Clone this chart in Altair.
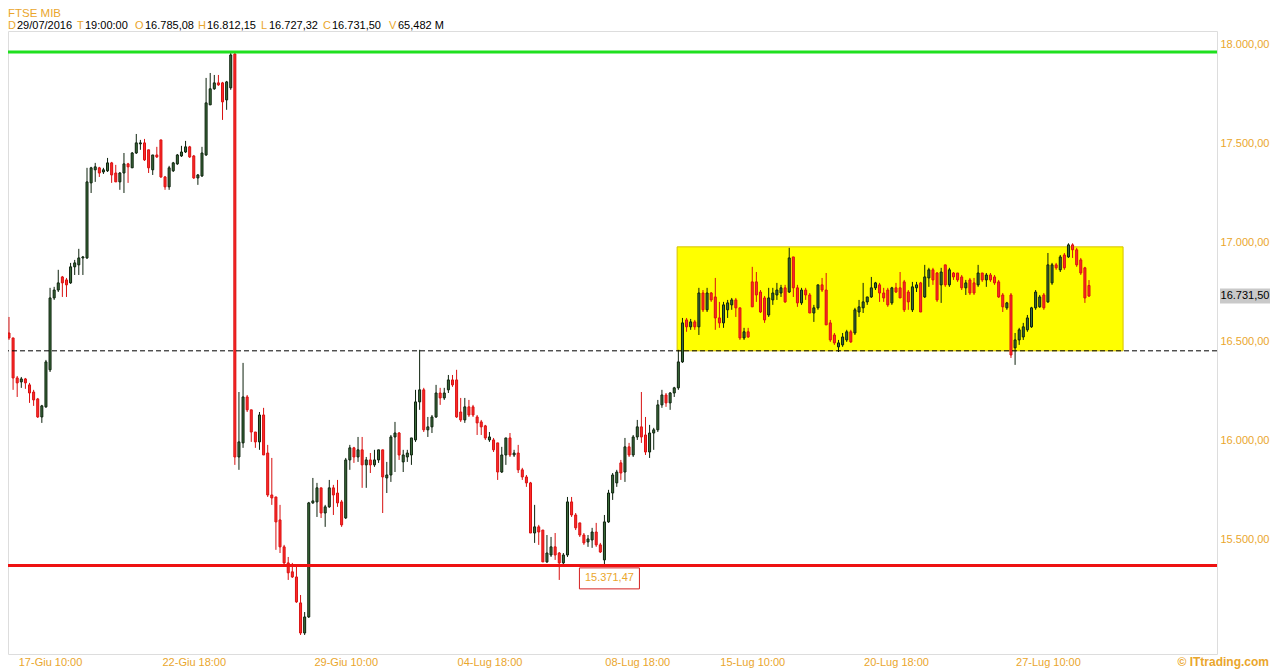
import json
import altair as alt
import pandas as pd

# ---------------- hourly candles ----------------
opens = [
    16545,16520,16318,16298,16313,16283,16247,16212,16121,16172,16359,16722,16762,16828,16813,16798,16879,16889,16924,16924,
    17303,17369,17379,17358,17364,17404,17353,17308,17353,17399,17379,17454,17500,17505,17470,17369,17444,17520,17333,17283,
    17364,17399,17439,17459,17485,17439,17328,17338,17444,17697,17778,17808,17808,17722,17783,17954,
    15919,15990,16222,16157,16045,15995,16131,15939,15727,15717,15601,15465,15384,15339,15313,15182,15030,15111,15687,15692,
    15763,15636,15667,15763,15737,15692,15611,15904,15965,15919,15955,15879,15904,15879,15904,15955,15813,15828,16020,16040,
    15894,15919,15929,16005,16197,16258,16056,
    16071,16121,16242,16217,16258,16308,16308,16146,16106,16172,16172,16121,16096,16076,16005,16005,15990,15843,15929,16015,
    15929,15939,15854,15818,15788,15535,15566,15550,15389,15424,15465,15434,15384,15424,15692,15626,15586,15525,15490,15500,
    15540,15475,15399,15591,15737,15788,15889,15843,15970,15929,16020,16071,16030,15944,16040,16056,16182,16232,16192,16242,
    16268,
    16399,16611,16576,16601,16576,16747,16662,16747,16727,16621,16596,16662,16687,16712,16672,16520,16551,16803,16803,16752,
    16722,16636,16712,16737,16747,16773,16752,16929,16773,16697,16762,16737,16646,16672,16788,16762,16596,16535,16475,16485,
    16510,16551,16545,16651,16672,16702,16727,16773,16788,16747,16762,16697,16773,16773,
    16803,16752,16662,16773,16798,16727,16823,16864,16848,16788,16889,16788,16848,16848,16828,16773,16813,16798,16788,16848,
    16813,16838,16828,16803,16737,16672,16737,16470,16510,16525,16561,16576,16672,16677,16737,16702,16798,16889,16864,16939,
    16929,16990,16965,16914,16874,16785.08,
]
highs = [
    16626,16520,16328,16323,16318,16293,16258,16217,16182,16409,16773,16778,16864,16833,16823,16899,16914,16970,16934,17379,
    17384,17404,17384,17379,17429,17409,17394,17358,17454,17404,17459,17550,17520,17525,17470,17444,17485,17520,17338,17389,
    17409,17449,17490,17515,17490,17444,17348,17485,17833,17858,17848,17848,17813,17818,17964,17964,
    16247,16394,16232,16157,16045,16146,16167,15980,15914,15717,15677,15475,15414,15384,15364,15222,15136,15692,15813,15788,
    15763,15677,15803,15778,15803,15702,15914,15980,15970,16020,16020,15919,15939,15955,15955,15955,15894,16030,16096,16045,
    15955,15955,16015,16258,16460,16268,16121,
    16131,16283,16268,16268,16333,16333,16359,16217,16217,16207,16182,16131,16106,16081,16045,16015,15990,15970,16015,16040,
    15955,15980,15864,15828,15793,15677,15576,15550,15525,15515,15535,15439,15434,15717,15717,15636,15586,15535,15525,15561,
    15586,15485,15626,15753,15838,15854,15904,16015,15990,16030,16106,16247,16121,16081,16066,16207,16258,16242,16247,16273,
    16460,
    16621,16621,16616,16611,16773,16762,16773,16752,16823,16702,16702,16712,16722,16722,16672,16571,16571,16879,16853,16762,
    16732,16773,16773,16798,16788,16788,16975,16929,16788,16773,16773,16747,16687,16788,16823,16848,16611,16545,16510,16545,
    16561,16561,16672,16712,16798,16727,16828,16803,16798,16773,16773,16778,16798,16853,
    16813,16762,16803,16803,16803,16889,16874,16874,16853,16874,16889,16874,16853,16848,16838,16813,16823,16823,16889,16848,
    16848,16848,16838,16813,16747,16702,16747,16545,16571,16596,16636,16677,16762,16737,16747,16949,16899,16899,16939,16949,
    16998,16998,16975,16924,16879,16812.15,
]
lows = [
    16510,16258,16222,16268,16263,16192,16177,16116,16091,16167,16348,16712,16752,16727,16727,16793,16838,16838,16838,16919,
    17252,17308,17333,17348,17358,17303,17308,17268,17252,17303,17379,17449,17470,17414,17353,17343,17429,17328,17268,17268,
    17358,17394,17434,17454,17429,17323,17293,17333,17439,17697,17773,17793,17621,17672,17773,15879,
    15854,15965,16146,15995,15965,15955,15929,15717,15677,15450,15434,15374,15298,15308,15182,15020,15020,15106,15682,15616,
    15611,15566,15662,15626,15667,15566,15606,15854,15889,15894,15763,15763,15838,15869,15889,15636,15737,15793,15843,15904,
    15843,15894,15879,15995,16157,16045,16020,
    16040,16116,16182,16207,16242,16273,16116,16096,16091,16121,16121,16030,16030,16005,15995,15944,15803,15838,15879,15919,
    15919,15838,15803,15768,15535,15485,15475,15389,15384,15414,15399,15298,15374,15414,15616,15550,15515,15475,15465,15460,
    15465,15434,15371.47,15586,15702,15768,15803,15793,15919,15919,16005,15990,15929,15914,15955,16045,16167,16172,16157,16222,
    16258,
    16394,16551,16561,16561,16535,16651,16651,16702,16561,16571,16571,16621,16662,16626,16510,16510,16520,16677,16702,16646,
    16596,16626,16687,16712,16727,16697,16747,16727,16677,16687,16712,16646,16601,16662,16752,16586,16500,16485,16449,16475,
    16500,16495,16535,16626,16646,16687,16722,16762,16702,16702,16677,16687,16747,16722,
    16651,16662,16651,16752,16651,16722,16778,16788,16702,16697,16778,16778,16813,16803,16762,16737,16737,16737,16778,16803,
    16778,16803,16788,16722,16651,16662,16419,16384,16485,16510,16551,16571,16662,16672,16662,16697,16788,16864,16853,16864,
    16924,16924,16879,16838,16697,16727.32,
]
closes = [
    16520,16318,16293,16313,16293,16242,16207,16121,16177,16399,16722,16762,16798,16798,16788,16879,16899,16924,16929,17308,
    17379,17384,17353,17369,17404,17343,17308,17353,17399,17384,17454,17505,17505,17419,17379,17444,17434,17333,17283,17379,
    17404,17444,17459,17485,17434,17328,17343,17454,17707,17778,17808,17798,17712,17813,17949,15919,
    15995,16222,16157,16045,15995,16131,15929,15727,15712,15591,15465,15384,15334,15313,15187,15030,15111,15687,15697,15763,
    15636,15667,15763,15727,15687,15576,15904,15965,15919,15955,15879,15904,15879,15904,15955,15818,15828,16020,16040,15929,
    15929,15939,16015,16197,16258,16056,16071,
    16121,16242,16217,16242,16308,16283,16121,16106,16172,16131,16131,16091,16071,16015,16020,15955,15843,15929,16015,15929,
    15939,15854,15818,15788,15535,15566,15540,15389,15434,15465,15424,15384,15424,15692,15626,15561,15525,15485,15505,15540,
    15475,15439,15591,15737,15828,15843,15838,15970,15929,16020,16071,16020,15944,16040,16056,16182,16232,16192,16242,16268,
    16399,
    16596,16576,16601,16576,16747,16662,16747,16712,16621,16596,16687,16697,16712,16672,16520,16551,16525,16677,16737,16651,
    16611,16722,16747,16762,16773,16702,16924,16773,16697,16762,16737,16646,16672,16788,16762,16586,16510,16495,16495,16525,
    16551,16500,16662,16677,16702,16727,16773,16798,16747,16722,16687,16773,16752,16722,
    16662,16702,16778,16788,16651,16828,16864,16813,16712,16853,16788,16864,16828,16813,16773,16798,16747,16747,16848,16813,
    16838,16813,16798,16727,16677,16697,16434,16510,16561,16576,16621,16672,16752,16727,16672,16889,16889,16874,16929,16874,
    16990,16965,16889,16848,16722,16731.50,
]

# ---------------- axes / annotations ----------------
x_tick_idx = [10, 45, 82, 117, 153, 181, 216, 253]
x_tick_labels = ["17-Giu 10:00", "22-Giu 18:00", "29-Giu 10:00", "04-Lug 18:00",
                 "08-Lug 18:00", "15-Lug 10:00", "20-Lug 18:00", "27-Lug 10:00"]
y_ticks = [15500, 16000, 16500, 17000, 17500, 18000]

resistance = 17964          # green line
support = 15371.47          # red line
pivot = 16455               # dashed line
zone = {"x0": [162.7], "x1": [271.3], "y0": [16455], "y1": [16980]}   # yellow box
support_bar = 145           # candle carrying the 15.371,47 label

title_text = "FTSE MIB"
header_keys = ["D", "T", "O", "H", "L", "C", "V"]
header_vals = ["29/07/2016", "19:00:00", "16.785,08", "16.812,15", "16.727,32", "16.731,50", "65,482 M"]
header_key_x = [0, 69, 127, 190, 253, 315, 381]
header_val_x = [9, 77, 137, 199, 261, 324, 390]

# ---------------- styling ----------------
PLOT_W, PLOT_H = 1209, 623
ORANGE = "#eaa62c"
FONT = "Liberation Sans"
UP_BODY, UP_EDGE = "#3d6e3d", "#0d220d"
DN_BODY, DN_EDGE = "#ff2b2b", "#d81010"

n = len(opens)
candles = pd.DataFrame({"i": list(range(n)), "o": opens, "h": highs, "l": lows, "c": closes})
candles["dir"] = ["up" if c >= o else "down" for o, c in zip(opens, closes)]

xs = alt.Scale(domain=[-0.24, 294.17], nice=False, zero=False, padding=0)
ys = alt.Scale(domain=[14924, 18070], nice=False, zero=False, padding=0)

it_fmt = "replace(replace(replace(format({v}, ',.2f'), ',', '#'), '.', ','), '#', '.')"

x_axis = alt.Axis(values=x_tick_idx,
                  labelExpr=f"{json.dumps(x_tick_labels)}[indexof({json.dumps(x_tick_idx)}, datum.value)]",
                  title=None, grid=False, ticks=False, tickSize=0, domain=False,
                  labelPadding=2, labelColor=ORANGE, labelFontSize=11, labelFont=FONT,
                  labelFlush=False, labelOverlap=False, orient="bottom")
y_axis = alt.Axis(values=y_ticks, labelExpr=it_fmt.format(v="datum.value"),
                  title=None, grid=False, ticks=False, tickSize=0, domain=False,
                  labelPadding=3, labelColor=ORANGE, labelFontSize=11, labelFont=FONT,
                  labelAlign="left", labelBaseline="middle", labelFlush=False,
                  labelOverlap=False, orient="right")

X = alt.X("i:Q", scale=xs, axis=x_axis)

zone_layer = alt.Chart(pd.DataFrame(zone)).mark_rect(
    fill="#ffff00", stroke="#d6c200", strokeWidth=1).encode(
    x=alt.X("x0:Q", scale=xs, axis=x_axis), x2=alt.X2("x1"),
    y=alt.Y("y0:Q", scale=ys, axis=y_axis), y2=alt.Y2("y1"))

dashed = alt.Chart(pd.DataFrame({"v": [pivot]})).mark_rule(
    color="black", strokeDash=[5, 3], strokeWidth=1).encode(
    y=alt.Y("v:Q", scale=ys, axis=y_axis))

wicks = alt.Chart(candles).mark_rule(strokeWidth=1).encode(
    x=X, y=alt.Y("l:Q", scale=ys, axis=y_axis), y2=alt.Y2("h"),
    color=alt.Color("dir:N", scale=alt.Scale(domain=["up", "down"], range=[UP_EDGE, DN_EDGE]), legend=None))

bodies = alt.Chart(candles).mark_bar(width=2, strokeWidth=1).encode(
    x=X, y=alt.Y("o:Q", scale=ys, axis=y_axis), y2=alt.Y2("c"),
    fill=alt.Fill("dir:N", scale=alt.Scale(domain=["up", "down"], range=[UP_BODY, DN_BODY]), legend=None),
    stroke=alt.Stroke("dir:N", scale=alt.Scale(domain=["up", "down"], range=[UP_EDGE, DN_EDGE]), legend=None))

green_line = alt.Chart(pd.DataFrame({"v": [resistance]})).mark_rule(
    color="#1fe01f", strokeWidth=3).encode(y=alt.Y("v:Q", scale=ys, axis=y_axis))
red_line = alt.Chart(pd.DataFrame({"v": [support]})).mark_rule(
    color="#ee1111", strokeWidth=3).encode(y=alt.Y("v:Q", scale=ys, axis=y_axis))

anno_df = pd.DataFrame({"i": [support_bar], "v": [support]})
anno_box = alt.Chart(anno_df).mark_point(
    shape="M-1,-0.35L1,-0.35L1,0.35L-1,0.35Z", size=3600, filled=True,
    fill="white", fillOpacity=1, stroke="#d42020", strokeWidth=1, opacity=1,
    xOffset=5, yOffset=13).encode(x=X, y=alt.Y("v:Q", scale=ys, axis=y_axis))
anno_txt = alt.Chart(anno_df).transform_calculate(
    lbl=it_fmt.format(v="datum.v")).mark_text(
    dx=5, dy=13, color=ORANGE, font=FONT, fontSize=11, align="center", baseline="middle").encode(
    x=X, y=alt.Y("v:Q", scale=ys, axis=y_axis), text="lbl:N")

last_df = pd.DataFrame({"v": [closes[-1]]})
price_box = alt.Chart(last_df).mark_point(
    shape="M-1,-0.3L1,-0.3L1,0.3L-1,0.3Z", size=2500, filled=True,
    fill="#c9c9c9", fillOpacity=1, strokeOpacity=0, opacity=1).encode(
    x=alt.value(PLOT_W + 28), y=alt.Y("v:Q", scale=ys, axis=y_axis))
price_txt = alt.Chart(last_df).transform_calculate(
    lbl=it_fmt.format(v="datum.v")).mark_text(
    color="black", font=FONT, fontSize=11, align="center", baseline="middle").encode(
    x=alt.value(PLOT_W + 28), y=alt.Y("v:Q", scale=ys, axis=y_axis), text="lbl:N")

one = pd.DataFrame({"a": [0]})
texts = [alt.Chart(one).mark_text(color=ORANGE, font=FONT, fontSize=11.5, align="left", baseline="middle").encode(
    x=alt.value(0), y=alt.value(-17.5), text=alt.value(title_text))]
for k, v, kx, vx in zip(header_keys, header_vals, header_key_x, header_val_x):
    texts.append(alt.Chart(one).mark_text(color=ORANGE, font=FONT, fontSize=11, align="left", baseline="middle").encode(
        x=alt.value(kx), y=alt.value(-5.5), text=alt.value(k)))
    texts.append(alt.Chart(one).mark_text(color="black", font=FONT, fontSize=11, align="left", baseline="middle").encode(
        x=alt.value(vx), y=alt.value(-5.5), text=alt.value(v)))
texts.append(alt.Chart(one).mark_text(color=ORANGE, font=FONT, fontSize=12, fontWeight="bold",
                                      align="right", baseline="middle").encode(
    x=alt.value(PLOT_W + 52), y=alt.value(PLOT_H + 8), text=alt.value("© ITtrading.com")))

chart = alt.layer(zone_layer, wicks, bodies, dashed, green_line, red_line,
                  anno_box, anno_txt, price_box, price_txt, *texts).properties(
    width=PLOT_W, height=PLOT_H,
    autosize=alt.AutoSizeParams(type="none"),
    padding={"left": 0, "top": 23, "right": 53, "bottom": 15},
).configure_view(stroke="#8e8e8e", strokeWidth=1).configure(background="white")

chart.save("out.html", embed_options={"renderer": "svg", "actions": False})
